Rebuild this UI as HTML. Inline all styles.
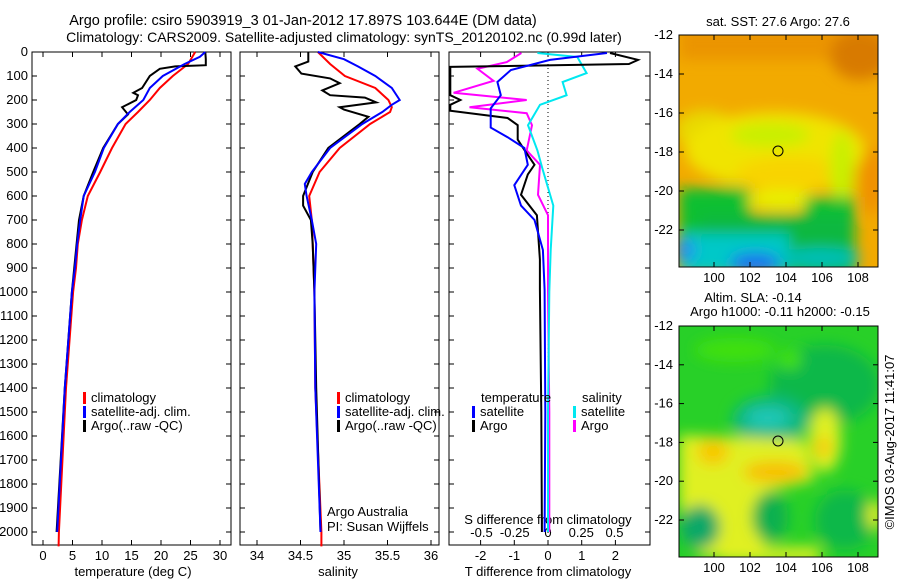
<!DOCTYPE html>
<html><head><meta charset="utf-8">
<style>
html,body{margin:0;padding:0;background:#fff;}
svg text{font-family:"Liberation Sans",sans-serif;font-size:13px;fill:#000;}
svg text.title{font-size:14.5px;}
svg text.title2{font-size:14px;}
</style></head>
<body>
<svg id="chart" width="900" height="580" viewBox="0 0 900 580" xmlns="http://www.w3.org/2000/svg">
<defs>
<filter id="blur6" x="-20%" y="-20%" width="140%" height="140%"><feGaussianBlur stdDeviation="7"/></filter>
<clipPath id="c1"><rect x="449" y="52" width="201" height="493"/></clipPath>
<clipPath id="m1"><rect x="679" y="35" width="199" height="232"/></clipPath>
<clipPath id="m2"><rect x="679" y="326" width="199" height="231"/></clipPath>
</defs>
<text class="title" x="303" y="25" text-anchor="middle">Argo profile: csiro 5903919_3 01-Jan-2012 17.897S 103.644E (DM data)</text>
<text class="title2" x="344" y="42" text-anchor="middle">Climatology: CARS2009. Satellite-adjusted climatology: synTS_20120102.nc (0.99d later)</text>
<g id="plots"></g>
<!-- Map 1 -->
<g clip-path="url(#m1)">
<rect x="679" y="35" width="199" height="232" fill="#f2aa00"/>
<g filter="url(#blur6)">
<rect x="679" y="25" width="210" height="35" fill="#eb9400"/>
<ellipse cx="860" cy="55" rx="30" ry="25" fill="#d87a00"/>
<ellipse cx="705" cy="130" rx="30" ry="20" fill="#e8d800"/>
<ellipse cx="775" cy="150" rx="90" ry="38" fill="#f0e400"/>
<ellipse cx="770" cy="135" rx="40" ry="12" fill="#c8f000"/>
<ellipse cx="790" cy="175" rx="55" ry="18" fill="#f8d400"/>
<ellipse cx="780" cy="200" rx="35" ry="10" fill="#e8f000"/>
<ellipse cx="842" cy="170" rx="12" ry="40" fill="#c8f000"/>
<rect x="679" y="188" width="70" height="85" fill="#10c030"/>
<rect x="805" y="197" width="50" height="80" fill="#10c030"/>
<rect x="700" y="215" width="150" height="60" fill="#10b840"/>
<ellipse cx="872" cy="180" rx="12" ry="35" fill="#f09000"/>
<rect x="679" y="234" width="110" height="40" fill="#00c8c8"/>
<ellipse cx="820" cy="258" rx="40" ry="10" fill="#00c0b8"/>
<ellipse cx="755" cy="263" rx="25" ry="10" fill="#1e70f0"/>
<ellipse cx="685" cy="250" rx="10" ry="12" fill="#2090f0"/>
</g>
</g>
<rect x="679" y="35" width="199" height="232" fill="none" stroke="#000"/>
<circle cx="778" cy="151" r="5" fill="none" stroke="#000"/>
<text x="778" y="26" text-anchor="middle">sat. SST: 27.6 Argo: 27.6</text>
<!-- Map 2 -->
<g clip-path="url(#m2)">
<rect x="679" y="326" width="199" height="231" fill="#28d028"/>
<g filter="url(#blur6)">
<ellipse cx="825" cy="385" rx="55" ry="40" fill="#10b848"/>
<ellipse cx="770" cy="420" rx="38" ry="24" fill="#10b880"/>
<ellipse cx="768" cy="418" rx="22" ry="10" fill="#20c8b8"/>
<ellipse cx="735" cy="350" rx="40" ry="12" fill="#40e010"/>
<ellipse cx="790" cy="360" rx="12" ry="10" fill="#40e010"/>
<path d="M679 435 L805 440 L815 480 L765 492 L765 557 L700 557 L679 505 Z" fill="#e0f020"/>
<ellipse cx="825" cy="440" rx="16" ry="32" fill="#e0f020"/>
<ellipse cx="713" cy="452" rx="16" ry="13" fill="#f8c800"/>
<ellipse cx="775" cy="472" rx="32" ry="11" fill="#f8c000"/>
<ellipse cx="823" cy="447" rx="8" ry="10" fill="#f8c800"/>
<ellipse cx="770" cy="517" rx="18" ry="25" fill="#10b050"/>
<ellipse cx="700" cy="527" rx="20" ry="22" fill="#10a868"/>
<ellipse cx="845" cy="520" rx="30" ry="30" fill="#10b848"/>
<rect x="720" y="547" width="100" height="15" fill="#e0f020"/>
<ellipse cx="875" cy="515" rx="8" ry="15" fill="#e0f020"/>
</g>
</g>
<rect x="679" y="326" width="199" height="231" fill="none" stroke="#000"/>
<circle cx="778" cy="441" r="5" fill="none" stroke="#000"/>
<text x="753" y="302" text-anchor="middle">Altim. SLA: -0.14</text>
<text x="780" y="316" text-anchor="middle">Argo h1000: -0.11 h2000: -0.15</text>
<text x="0" y="0" transform="translate(894,442) rotate(-90)" text-anchor="middle">©IMOS 03-Aug-2017 11:41:07</text>
<g id="maps-axes"></g>
</svg>
<script>
// ---- data ----
const depthTicks = [0,100,200,300,400,500,600,700,800,900,1000,1100,1200,1300,1400,1500,1600,1700,1800,1900,2000];
const tempTicks = [0,5,10,15,20,25,30];
const salTicks = [34,34.5,35,35.5,36];
const salTickLabels = ["34","34.5","35","35.5","36"];
const tdTicks = [-2,-1,0,1,2];
const sdTicks = [-0.5,-0.25,0,0.25,0.5];
const sdTickLabels = ["-0.5","-0.25","0","0.25","0.5"];
const latTicks = [-12,-14,-16,-18,-20,-22];
const lonTicks = [100,102,104,106,108];

const tClimDepth = [0,50,100,150,200,250,300,400,500,600,700,800,900,1000,1400,2000,2060];
const tClimVal   = [25.8,24.6,22,19.8,18.1,16.1,14,11.7,9.7,7.6,6.6,5.9,5.6,5.1,3.9,2.7,2.65];
const tSatDepth = [0,20,50,100,150,200,250,300,400,500,600,700,800,900,1000,1400,2000];
const tSatVal   = [27.5,26.6,24,20.3,18.1,17,14.7,12.7,10.3,8.8,6.9,6.3,5.8,5.4,4.9,3.7,2.4];
const tArgoDepth = [0,30,55,60,70,100,150,170,180,200,230,260,300,400,500,600,700,800,1000,1400,2000];
const tArgoVal   = [27.5,27.6,27.6,22.4,19.8,18.1,16.8,15.3,16.1,15.8,13.4,14.4,12.7,10.2,8.5,6.9,6.1,5.7,4.9,3.7,2.3];

const sClimDepth = [0,50,100,150,200,230,250,300,400,500,600,700,800,1000,1400,2000,2060];
const sClimVal   = [34.70,34.84,35.01,35.36,35.51,35.55,35.53,35.30,34.95,34.72,34.60,34.63,34.64,34.66,34.67,34.74,34.74];
const sSatDepth = [0,30,60,100,150,200,220,250,300,400,500,550,600,700,800,1000,1400,2000];
const sSatVal   = [34.70,35.0,35.16,35.36,35.55,35.64,35.55,35.44,35.21,34.84,34.63,34.55,34.57,34.63,34.68,34.66,34.67,34.73];
const sArgoDepth = [0,40,60,90,110,130,160,180,190,210,230,240,270,300,400,500,600,640,700,800,1000,1400,2000];
const sArgoVal   = [34.59,34.59,34.44,34.51,34.84,34.95,34.75,34.84,35.24,35.37,34.95,35.0,35.28,35.18,34.82,34.64,34.53,34.53,34.62,34.64,34.66,34.68,34.73];

const tdArgoDepth = [4,33,50,62,75,180,200,220,245,275,305,365,408,470,510,595,680,865,990,1500,2000];
const tdArgoVal   = [1.84,2.67,2.4,-2.9,-2.9,-2.9,-2.6,-2.9,-2.9,-1.2,-0.9,-0.9,-0.7,-0.4,-0.6,-0.8,-0.33,-0.24,-0.24,-0.2,-0.18];
const tdSatDepth = [4,33,75,125,180,235,315,355,400,470,555,640,700,825,990,1500,2000];
const tdSatVal   = [1.75,0.06,-1.1,-1.5,-1.4,-1.7,-1.7,-1.2,-0.7,-0.6,-1.0,-0.8,-0.4,-0.15,-0.1,-0.08,-0.1];
const sdArgoDepth = [4,42,70,120,170,200,230,255,305,410,470,595,680,1000,1500,2000];
const sdArgoVal   = [-0.2,-0.31,-0.53,-0.41,-0.71,-0.16,-0.59,-0.16,-0.12,-0.16,-0.06,-0.075,0,0,0.01,0.01];
const sdSatDepth = [4,21,88,125,180,220,305,410,490,640,825,1000,1500,2000];
const sdSatVal   = [-0.08,0.22,0.29,0.11,0.14,-0.06,-0.15,-0.08,-0.04,0.04,0.02,0.01,0,0];

// ---- scales ----
const yD = d => 52 + d*0.24;
const xT = t => 43 + t*5.9;
const xS = s => 257 + (s-34)*87;
const xTD = t => 548 + t*33.7;
const xSD = s => 548 + s*133;
const lonX = l => 714 + (l-100)*18;
const lat1 = a => 35 + (-12-a)*19.5;
const lat2 = a => 326 + (-12-a)*19.4;

const NS='http://www.w3.org/2000/svg';
const root=document.getElementById('plots');
function mk(tag,attrs,parent){const e=document.createElementNS(NS,tag);for(const k in attrs)e.setAttribute(k,attrs[k]);(parent||root).appendChild(e);return e;}
function txt(x,y,s,anchor,parent){const e=mk('text',{x:x,y:y,'text-anchor':anchor||'middle'},parent);e.textContent=s;return e;}

function line(depths,vals,xf,color,name,clip){
  const pts=depths.map((d,i)=>xf(vals[i]).toFixed(1)+','+yD(d).toFixed(1)).join(' ');
  const p=mk('polyline',{points:pts,fill:'none',stroke:color,'stroke-width':2});
  if(clip)p.setAttribute('clip-path','url(#c1)');
  
  
}

const panels=[[32,231,'temperature-panel'],[240,439,'salinity-panel'],[449,650,'difference-panel']];
panels.forEach(([l,r,n])=>{
  const b=mk('rect',{x:l,y:52,width:r-l,height:493,fill:'none',stroke:'#000'});
  
  
  depthTicks.forEach(d=>{
    mk('line',{x1:l,x2:l+5,y1:yD(d),y2:yD(d),stroke:'#000'});
    mk('line',{x1:r,x2:r-5,y1:yD(d),y2:yD(d),stroke:'#000'});
  });
});
depthTicks.forEach(d=>{const t=txt(28,yD(d)+4,String(d),'end');
  
  });

function xticks(ticks,labels,xf,y){ticks.forEach((v,i)=>{
  mk('line',{x1:xf(v),x2:xf(v),y1:545,y2:540,stroke:'#000'});
  mk('line',{x1:xf(v),x2:xf(v),y1:52,y2:57,stroke:'#000'});
  const t=txt(xf(v),y,labels[i]);
  
  });}
xticks(tempTicks,tempTicks.map(String),xT,560);
xticks(salTicks,salTickLabels,xS,560);
xticks(tdTicks,tdTicks.map(String),xTD,560);
sdTicks.forEach((v,i)=>{const t=txt(xSD(v),537,sdTickLabels[i]);
  
  });

let t;
t=txt(133,576,'temperature (deg C)');
t=txt(338,576,'salinity');
t=txt(548,576,'T difference from climatology');
t=txt(548,524,'S difference from climatology');

const z=mk('line',{x1:548,x2:548,y1:52,y2:545,stroke:'#000','stroke-dasharray':'1,3'});



line(tClimDepth,tClimVal,xT,'#ff0000','temp-climatology-line');
line(tArgoDepth,tArgoVal,xT,'#000000','temp-argo-line');
line(tSatDepth,tSatVal,xT,'#0000ff','temp-satellite-line');
line(sClimDepth,sClimVal,xS,'#ff0000','sal-climatology-line');
line(sArgoDepth,sArgoVal,xS,'#000000','sal-argo-line');
line(sSatDepth,sSatVal,xS,'#0000ff','sal-satellite-line');
line(sdArgoDepth,sdArgoVal,xSD,'#ff00ff','sdiff-argo-line',true);
line(sdSatDepth,sdSatVal,xSD,'#00e8f0','sdiff-satellite-line',true);
line(tdArgoDepth,tdArgoVal,xTD,'#000000','tdiff-argo-line',true);
line(tdSatDepth,tdSatVal,xTD,'#0000ff','tdiff-satellite-line',true);

function legend(x,y,color,label){
  const r=mk('rect',{x:x,y:y-10,width:3,height:12,fill:color});
  
  
  const tt=txt(x+8,y,label,'start');
  
  
}
legend(83,402,'#ff0000','climatology');legend(83,416,'#0000ff','satellite-adj. clim.');legend(83,430,'#000000','Argo(..raw -QC)');
legend(337,402,'#ff0000','climatology');legend(337,416,'#0000ff','satellite-adj. clim.');legend(337,430,'#000000','Argo(..raw -QC)');
t=txt(481,402,'temperature','start');
t=txt(582,402,'salinity','start');
legend(472,416,'#0000ff','satellite');legend(472,430,'#000000','Argo');
legend(573,416,'#00e8f0','satellite');legend(573,430,'#ff00ff','Argo');
t=txt(327,516,'Argo Australia','start');
t=txt(327,531,'PI: Susan Wijffels','start');

const ma=document.getElementById('maps-axes');
[[lat1,35,267],[lat2,326,557]].forEach(([lf,top,bot])=>{
  latTicks.forEach(a=>{
    mk('line',{x1:679,x2:684,y1:lf(a),y2:lf(a),stroke:'#000'},ma);
    mk('line',{x1:878,x2:873,y1:lf(a),y2:lf(a),stroke:'#000'},ma);
    const l=txt(673,lf(a)+4,String(a),'end',ma);
    
    
  });
  lonTicks.forEach(o=>{
    mk('line',{x1:lonX(o),x2:lonX(o),y1:top,y2:top+5,stroke:'#000'},ma);
    mk('line',{x1:lonX(o),x2:lonX(o),y1:bot,y2:bot-5,stroke:'#000'},ma);
    const l=txt(lonX(o),bot+15,String(o),'middle',ma);
    
    
  });
});
</script>
</body></html>
